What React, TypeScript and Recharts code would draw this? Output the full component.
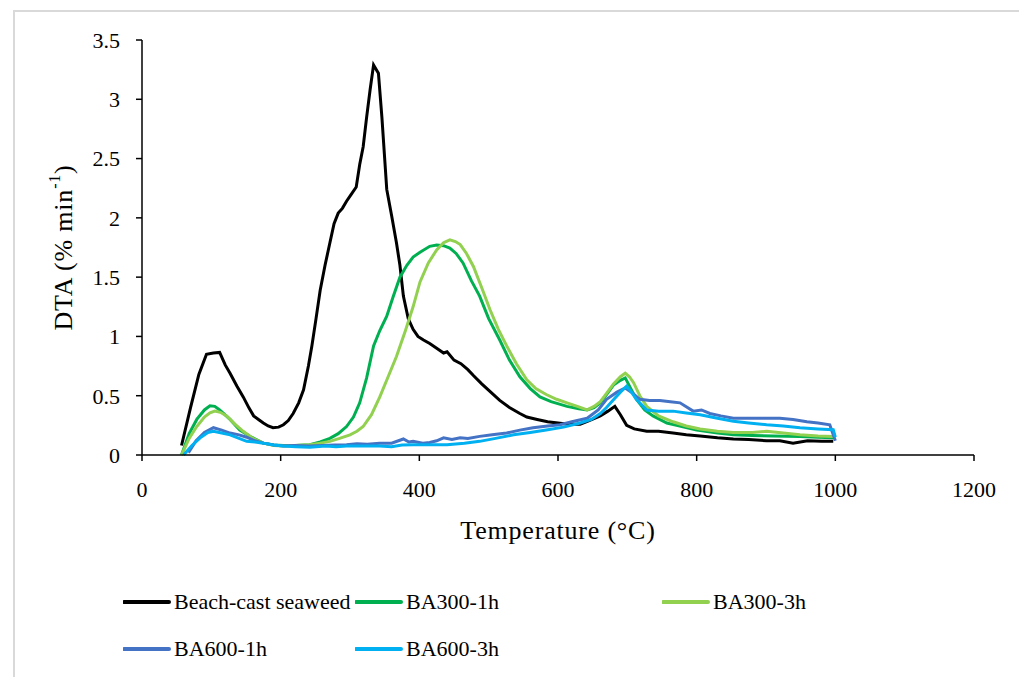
import { LineChart, Line, XAxis, YAxis } from 'recharts';

// temperature (°C) and DTA (% min-1)
const beachTemp = [57, 70, 82, 93, 103, 112, 120, 127, 137, 146, 154, 161, 168, 175, 182, 189, 197, 204, 211, 218, 226, 233, 240, 245, 251, 257, 264, 271, 277, 283, 289, 295, 302, 309, 314, 319, 324, 329, 334, 338, 341, 346, 353, 360, 367, 372, 377, 384, 391, 398, 406, 415, 425, 435, 440, 450, 460, 470, 478, 490, 503, 516, 530, 545, 555, 570, 585, 600, 615, 632, 645, 661, 672, 682, 690, 699, 710, 728, 745, 766, 785, 805, 830, 853, 875, 901, 920, 939, 960, 980, 997];
const beachDta = [0.08, 0.4, 0.68, 0.85, 0.86, 0.865, 0.76, 0.69, 0.58, 0.49, 0.4, 0.33, 0.3, 0.27, 0.245, 0.23, 0.235, 0.255, 0.29, 0.35, 0.44, 0.55, 0.75, 0.92, 1.15, 1.39, 1.6, 1.79, 1.95, 2.04, 2.08, 2.14, 2.2, 2.26, 2.45, 2.6, 2.85, 3.08, 3.29, 3.25, 3.22, 2.85, 2.24, 2.02, 1.79, 1.6, 1.34, 1.15, 1.06, 1.0, 0.97, 0.94, 0.9, 0.86, 0.87, 0.8, 0.77, 0.72, 0.67, 0.6, 0.53, 0.46, 0.4, 0.35, 0.32, 0.3, 0.28, 0.27, 0.26, 0.26, 0.29, 0.33, 0.37, 0.41, 0.34, 0.25, 0.22, 0.2, 0.2, 0.185, 0.17, 0.16, 0.145, 0.135, 0.13, 0.12, 0.12, 0.1, 0.12, 0.115, 0.115];

const ba3001Temp = [57, 68, 79, 90, 98, 105, 112, 127, 141, 158, 175, 190, 204, 220, 242, 257, 271, 283, 295, 305, 314, 324, 334, 343, 353, 362, 372, 382, 391, 401, 415, 425, 435, 444, 453, 463, 475, 487, 500, 516, 530, 545, 560, 574, 590, 613, 630, 642, 652, 661, 670, 680, 690, 697, 705, 713, 725, 737, 757, 771, 800, 830, 853, 880, 910, 949, 975, 997];
const ba3001Dta = [0, 0.18, 0.3, 0.38, 0.415, 0.41, 0.38, 0.3, 0.21, 0.15, 0.1, 0.085, 0.08, 0.08, 0.087, 0.11, 0.14, 0.18, 0.24, 0.32, 0.44, 0.65, 0.92, 1.05, 1.17, 1.33, 1.5, 1.6, 1.67, 1.71, 1.76, 1.77, 1.765, 1.745, 1.7, 1.62, 1.47, 1.34, 1.15, 0.97, 0.8, 0.66, 0.56, 0.49, 0.45, 0.41, 0.39, 0.38, 0.4, 0.44, 0.51, 0.59, 0.63, 0.65, 0.56, 0.47, 0.38, 0.33, 0.27, 0.25, 0.21, 0.185, 0.17, 0.165, 0.16, 0.157, 0.15, 0.146];

const ba3003Temp = [57, 68, 79, 90, 98, 105, 113, 122, 134, 146, 160, 175, 190, 204, 222, 242, 257, 271, 285, 300, 310, 319, 331, 343, 355, 367, 380, 391, 401, 413, 425, 435, 444, 452, 459, 468, 478, 490, 502, 514, 526, 540, 555, 568, 583, 598, 613, 628, 642, 652, 661, 670, 680, 690, 697, 703, 709, 718, 728, 745, 766, 785, 805, 830, 853, 880, 901, 925, 949, 975, 997];
const ba3003Dta = [0, 0.14, 0.24, 0.32, 0.355, 0.37, 0.36, 0.33, 0.26, 0.2, 0.14, 0.1, 0.08, 0.075, 0.08, 0.087, 0.1, 0.115, 0.14, 0.17, 0.2, 0.24, 0.34, 0.49, 0.66, 0.83, 1.05, 1.25, 1.46, 1.62, 1.73, 1.79, 1.815, 1.8, 1.775, 1.7, 1.59, 1.41, 1.225, 1.06, 0.92, 0.77, 0.635, 0.56, 0.51, 0.47, 0.44, 0.41, 0.38, 0.41, 0.45, 0.52, 0.6, 0.66, 0.69, 0.66, 0.61, 0.5, 0.41, 0.33, 0.28, 0.245, 0.22, 0.2, 0.19, 0.19, 0.2, 0.185, 0.17, 0.16, 0.157];

const ba6001Temp = [67, 78, 90, 103, 115, 127, 140, 151, 163, 175, 190, 204, 220, 242, 260, 278, 295, 310, 325, 343, 360, 377, 385, 391, 405, 415, 425, 435, 447, 459, 470, 487, 505, 526, 545, 564, 585, 603, 620, 642, 658, 670, 685, 697, 708, 718, 732, 747, 762, 776, 795, 807, 819, 835, 853, 875, 901, 920, 939, 959, 975, 992, 1000];
const ba6001Dta = [0.02, 0.12, 0.19, 0.23, 0.21, 0.185, 0.17, 0.15, 0.12, 0.1, 0.085, 0.075, 0.08, 0.075, 0.08, 0.085, 0.087, 0.095, 0.09, 0.1, 0.1, 0.135, 0.11, 0.115, 0.1, 0.105, 0.12, 0.145, 0.13, 0.145, 0.14, 0.157, 0.17, 0.185, 0.21, 0.23, 0.245, 0.255, 0.28, 0.31, 0.38, 0.47, 0.53, 0.565, 0.52, 0.47, 0.46, 0.46, 0.45, 0.44, 0.37, 0.38, 0.35, 0.33, 0.31, 0.31, 0.31, 0.31, 0.3, 0.28, 0.27, 0.255, 0.12];

const ba6003Temp = [60, 72, 85, 95, 103, 115, 127, 140, 151, 163, 175, 190, 204, 222, 242, 265, 280, 295, 320, 343, 360, 375, 391, 415, 440, 465, 487, 510, 536, 560, 583, 608, 632, 648, 661, 670, 680, 690, 699, 706, 713, 728, 745, 766, 785, 805, 830, 853, 875, 901, 925, 949, 975, 997, 1000];
const ba6003Dta = [0, 0.08, 0.15, 0.19, 0.2, 0.185, 0.17, 0.14, 0.115, 0.11, 0.1, 0.085, 0.075, 0.07, 0.065, 0.075, 0.07, 0.075, 0.075, 0.075, 0.07, 0.085, 0.087, 0.087, 0.087, 0.1, 0.115, 0.14, 0.17, 0.19, 0.21, 0.235, 0.27, 0.3, 0.35, 0.4, 0.465, 0.53, 0.58, 0.53, 0.47, 0.38, 0.37, 0.37, 0.355, 0.34, 0.31, 0.285, 0.27, 0.255, 0.245, 0.23, 0.22, 0.213, 0.15];

const xTicks = [0, 200, 400, 600, 800, 1000, 1200];
const yTicks = [0, 0.5, 1, 1.5, 2, 2.5, 3, 3.5];

const zip = (xs: number[], ys: number[]) => xs.map((x, i) => ({ x, y: ys[i] }));

const series = [
  { name: 'Beach-cast seaweed', color: '#000000', data: zip(beachTemp, beachDta) },
  { name: 'BA300-1h', color: '#00B050', data: zip(ba3001Temp, ba3001Dta) },
  { name: 'BA300-3h', color: '#92D050', data: zip(ba3003Temp, ba3003Dta) },
  { name: 'BA600-1h', color: '#4472C4', data: zip(ba6001Temp, ba6001Dta) },
  { name: 'BA600-3h', color: '#00B0F0', data: zip(ba6003Temp, ba6003Dta) },
];

const font = '"Liberation Serif", "DejaVu Serif", serif';

// legend slots as in the original (two rows)
const legendPos = [
  { left: 115, top: 586 },
  { left: 347, top: 586 },
  { left: 654, top: 586 },
  { left: 115, top: 633 },
  { left: 347, top: 633 },
];

const YTitle = (props: any) => {
  const { viewBox } = props;
  const cx = 63 - 8;
  const cy = viewBox.y + viewBox.height / 2;
  return (
    <text
      x={cx}
      y={cy}
      transform={`rotate(-90 ${cx} ${cy})`}
      textAnchor="middle"
      dominantBaseline="central"
      fontFamily={font}
      fontSize={26}
      letterSpacing={0.8}
      fill="#000"
    >
      DTA (% min<tspan dy={-9} fontSize={16}>-1</tspan>
      <tspan dy={9}>)</tspan>
    </text>
  );
};

export default function App() {
  return (
    <div style={{ position: 'relative', width: 1019, height: 669, fontFamily: font }}>
      <div
        style={{
          position: 'absolute',
          left: 5,
          top: 2,
          width: 1030,
          height: 700,
          borderTop: '2px solid #d9d9d9',
          borderLeft: '2px solid #d9d9d9',
        }}
      />
      <div style={{ position: 'absolute', left: 0, top: 0 }}>
        <LineChart
          width={1000}
          height={560}
          margin={{ top: 32, right: 34, left: 74, bottom: 43 }}
        >
          <XAxis
            type="number"
            dataKey="x"
            domain={[0, 1200]}
            ticks={xTicks}
            interval={0}
            allowDataOverflow
            height={70}
            tickSize={6}
            tickMargin={20}
            stroke="#000"
            strokeWidth={1.5}
            tick={{ fill: '#000', fontSize: 22, fontFamily: font }}
            label={{
              value: 'Temperature (°C)',
              position: 'insideBottom',
              offset: -14,
              fill: '#000',
              fontSize: 26,
              letterSpacing: 0.8,
              fontFamily: font,
            }}
          />
          <YAxis
            type="number"
            dataKey="y"
            domain={[0, 3.5]}
            ticks={yTicks}
            interval={0}
            width={60}
            tickSize={6}
            tickMargin={16}
            stroke="#000"
            strokeWidth={1.5}
            tick={{ fill: '#000', fontSize: 22, fontFamily: font }}
            label={<YTitle />}
          />
          {series.map((s) => (
            <Line
              key={s.name}
              data={s.data}
              dataKey="y"
              name={s.name}
              type="linear"
              stroke={s.color}
              strokeWidth={3}
              dot={false}
              activeDot={false}
              isAnimationActive={false}
            />
          ))}
        </LineChart>
      </div>
      {series.map((s, i) => (
        <div
          key={s.name}
          style={{
            position: 'absolute',
            left: legendPos[i].left,
            top: legendPos[i].top,
            display: 'flex',
            alignItems: 'center',
            height: 16,
            fontSize: 22,
            whiteSpace: 'nowrap',
          }}
        >
          <svg width={49} height={8} style={{ marginRight: 2 }}>
            <line x1={1} y1={4} x2={46} y2={4} stroke={s.color} strokeWidth={4} strokeLinecap="round" />
          </svg>
          <span>{s.name}</span>
        </div>
      ))}
    </div>
  );
}
